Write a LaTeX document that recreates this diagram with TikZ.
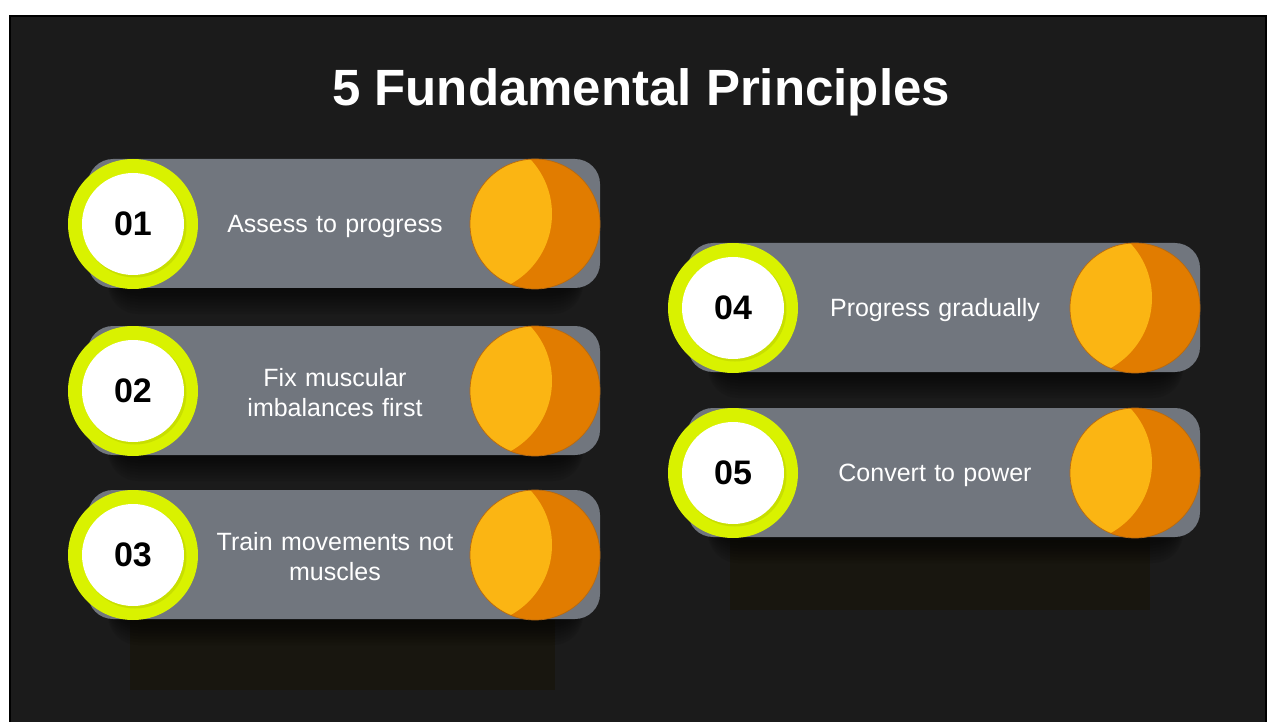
\documentclass[tikz,border=0pt]{standalone}
\usepackage{fontspec}
\setmainfont{Liberation Sans}
\usetikzlibrary{positioning}

\definecolor{panel}{HTML}{1B1B1B}
\definecolor{sheen}{HTML}{18160F}
\definecolor{cardgray}{HTML}{71767E}
\definecolor{lime}{HTML}{D9F200}
\definecolor{limeshade}{HTML}{A9BC00}
\definecolor{sunlight}{HTML}{FBB513}
\definecolor{sundark}{HTML}{E17C00}
\definecolor{sunedge}{HTML}{B86A10}

% one card: ring centre x, ring centre y, index, number, label
\newcommand\principle[5]{%
  % soft shadow under the card
  \foreach \d in {2,5,...,26}
    \fill[black, opacity=.08, rounded corners=30pt] (#1-25,#2-50+\d) rectangle (#1+450,#2+64+\d);
  % card body
  \fill[cardgray, rounded corners=25pt] (#1-45,#2-65) rectangle (#1+467,#2+64);
  \node[ring] (ring#3) at (#1,#2) {};
  \fill[limeshade, opacity=.35] (#1+2,#2+2) circle[radius=51.5pt];
  \node[disc] (num#3) at (ring#3) {#4};
  \node[sun] (sun#3) at (#1+402,#2) {};
  \node[label] (label#3) at (#1+202,#2+2) {#5};
}

\begin{document}
\begin{tikzpicture}[x=1pt, y=-1pt,
  title/.style={text=white, font=\bfseries\fontsize{51}{60}\selectfont},
  ring/.style={circle, fill=lime, inner sep=0pt, minimum size=130pt},
  disc/.style={circle, fill=white, inner sep=0pt, minimum size=102pt,
    font=\bfseries\fontsize{34}{40}\selectfont},
  sun/.style={circle, fill=sundark, draw=sunedge, line width=.7pt, inner sep=0pt,
    minimum size=130pt,
    path picture={\fill[sunlight] ([xshift=-63pt,yshift=10pt]path picture bounding box.center) circle[radius=80pt];}},
  label/.style={text=white, align=center, text width=250pt,
    font=\fontsize{25}{30}\selectfont}]
\useasboundingbox (0,0) rectangle (1275,722);
\fill[white] (0,0) rectangle (1275,722);

% dark panel
\fill[panel, draw=black, line width=2.5pt] (10,16) rectangle (1266,724);

\node[title] (title) at (641,92) {5 Fundamental Principles};

% faint patches under the last card of each column
\fill[sheen] (130,620) rectangle (555,690);
\fill[sheen] (730,540) rectangle (1150,610);

% left column
\principle{133}{224}{1}{01}{Assess to progress}
\principle{133}{391}{2}{02}{Fix muscular\\imbalances first}
\principle{133}{555}{3}{03}{Train movements not\\muscles}

% right column
\principle{733}{308}{4}{04}{Progress gradually}
\principle{733}{473}{5}{05}{Convert to power}
\end{tikzpicture}
\end{document}
